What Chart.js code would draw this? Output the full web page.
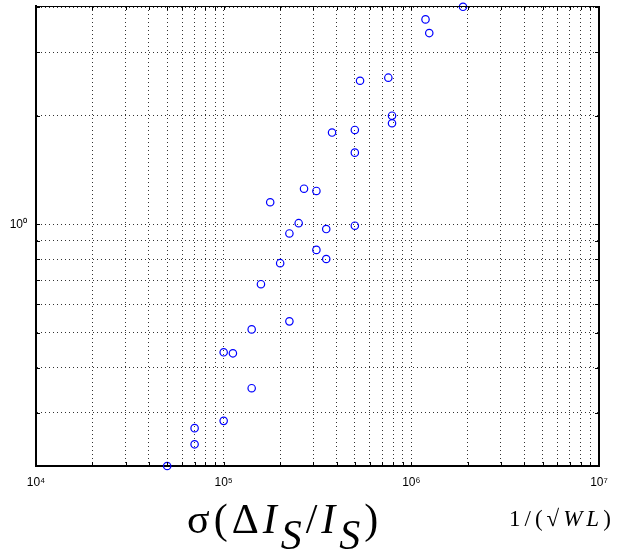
<!DOCTYPE html>
<html>
<head>
<meta charset="utf-8">
<script src="https://cdn.jsdelivr.net/npm/chart.js@4"></script>
<style>
    body { margin: 0; background: #fff; }
    #wrap { position: relative; width: 620px; height: 555px; }
    .ttl { position: absolute; font-family: "Liberation Serif", "Times New Roman", serif; color: #000; white-space: nowrap; }
    #ttlMain { left: 187px; top: 498px; font-size: 42px; line-height: 42px; letter-spacing: 4px; }
    #ttlSide { left: 509px; top: 507px; font-size: 23px; line-height: 23px; letter-spacing: 4px; }
    .sub { position: relative; top: 16px; font-style: italic; }
</style>
</head>
<body>
<div id="wrap">
    <canvas id="chart" width="620" height="555"></canvas>
    <div class="ttl" id="ttlMain">σ(Δ<i>I</i><span class="sub">S</span>/<i>I</i><span class="sub">S</span>)</div>
    <div class="ttl" id="ttlSide">1/(√<i>WL</i>)</div>
</div>
<script>
// measured points: x = 1/sqrt(WL), y = sigma(dIs/Is)
const xValues = [5.0e4, 7.0e4, 7.0e4, 1.0e5, 1.41e5, 1.0e5, 1.12e5, 1.41e5, 2.24e5, 1.58e5,
                 2.0e5, 3.12e5, 3.52e5, 2.24e5, 2.51e5, 5.0e5, 3.52e5, 1.77e5, 2.68e5, 3.12e5,
                 5.0e5, 5.0e5, 3.78e5, 5.33e5, 7.54e5, 7.89e5, 7.89e5, 1.19e6, 1.246e6, 1.885e6];
const yValues = [0.2136, 0.2453, 0.272, 0.285, 0.351, 0.4415, 0.4386, 0.511, 0.538, 0.682,
                 0.780, 0.849, 0.801, 0.943, 1.007, 0.991, 0.970, 1.151, 1.255, 1.237,
                 1.826, 1.58, 1.796, 2.50, 2.55, 2.00, 1.906, 3.70, 3.39, 4.01];

// grid / tick positions
const xDecades = [1e4, 1e5, 1e6];
const xSteps = [1, 2, 3, 4, 5, 6, 7, 8, 9];
const xTicks = [];
xDecades.forEach(d => xSteps.forEach(s => xTicks.push(s * d)));
xTicks.push(1e7);
const yTicks = [0.3, 0.4, 0.5, 0.6, 0.7, 0.8, 0.9, 1, 2, 3, 4];
const xRange = [1e4, 1e7];
const yRange = [0.2136, 4.03];

const sup = { "0": "⁰", "1": "¹", "2": "²", "3": "³", "4": "⁴", "5": "⁵", "6": "⁶", "7": "⁷", "8": "⁸", "9": "⁹", "-": "⁻" };

function powLabel(v) {
    const e = Math.log10(v);
    if (Math.abs(e - Math.round(e)) > 1e-9) return "";
    return "10" + String(Math.round(e)).split("").map(c => sup[c]).join("");
}

// inner tick marks + top/right box lines
const frame = {
    id: "frame",
    afterDraw(chart) {
        const { ctx, chartArea: a, scales: { x, y } } = chart;
        ctx.save();
        ctx.strokeStyle = "#000";
        ctx.lineWidth = 1;
        ctx.beginPath();
        x.ticks.forEach(t => {
            const px = Math.round(x.getPixelForValue(t.value)) + 0.5;
            ctx.moveTo(px, a.bottom); ctx.lineTo(px, a.bottom - 4);
            ctx.moveTo(px, a.top); ctx.lineTo(px, a.top + 4);
        });
        y.ticks.forEach(t => {
            const py = Math.round(y.getPixelForValue(t.value)) + 0.5;
            ctx.moveTo(a.left, py); ctx.lineTo(a.left + 4, py);
            ctx.moveTo(a.right, py); ctx.lineTo(a.right - 4, py);
        });
        ctx.stroke();
        ctx.beginPath();
        ctx.moveTo(a.left, a.top + 0.5); ctx.lineTo(a.right, a.top + 0.5);
        ctx.stroke();
        ctx.lineWidth = 2;
        ctx.beginPath();
        ctx.moveTo(a.right, a.top); ctx.lineTo(a.right, a.bottom);
        ctx.stroke();
        ctx.restore();
    }
};

const gridStyle = { color: "rgba(0,0,0,0.8)", lineWidth: 1, drawTicks: false };
const borderStyle = { display: true, color: "#000", width: 2, dash: [1, 3] };
const tickFont = { family: "'Liberation Sans', Arial, sans-serif", size: 12 };

new Chart(document.getElementById("chart"), {
    type: "scatter",
    data: {
        datasets: [{
            data: xValues.map((v, i) => ({ x: v, y: yValues[i] })),
            pointStyle: "circle",
            pointRadius: 3.7,
            pointHoverRadius: 3.7,
            borderColor: "rgb(0,0,255)",
            backgroundColor: "rgba(0,0,0,0)",
            borderWidth: 1.2,
            clip: false
        }]
    },
    plugins: [frame],
    options: {
        responsive: false,
        animation: false,
        devicePixelRatio: 1,
        layout: { padding: { top: 6, right: 21, left: 0, bottom: 0 } },
        plugins: { legend: { display: false }, tooltip: { enabled: false } },
        scales: {
            x: {
                type: "logarithmic",
                min: xRange[0],
                max: xRange[1],
                grid: gridStyle,
                border: borderStyle,
                afterBuildTicks: s => { s.ticks = xTicks.map(v => ({ value: v })); },
                afterFit: s => { s.height = 89; s.paddingLeft = 0; s.paddingRight = 0; },
                ticks: {
                    autoSkip: false, maxRotation: 0, padding: 9,
                    color: "#000", font: tickFont,
                    callback: v => powLabel(v)
                }
            },
            y: {
                type: "logarithmic",
                min: yRange[0],
                max: yRange[1],
                grid: gridStyle,
                border: borderStyle,
                afterBuildTicks: s => { s.ticks = yTicks.map(v => ({ value: v })); },
                afterFit: s => { s.width = 36; s.paddingTop = 0; s.paddingBottom = 0; },
                ticks: {
                    autoSkip: false, padding: 9,
                    color: "#000", font: tickFont,
                    callback: v => powLabel(v)
                }
            }
        }
    }
});
</script>
</body>
</html>
